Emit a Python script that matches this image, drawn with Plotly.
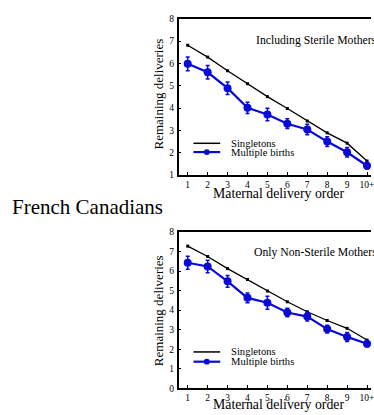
import plotly.graph_objects as go

order = [1, 2, 3, 4, 5, 6, 7, 8, 9, 10]
tick_labels = ["1", "2", "3", "4", "5", "6", "7", "8", "9", "10+"]

# Including sterile mothers
single_all = [6.81, 6.28, 5.67, 5.09, 4.51, 3.98, 3.42, 2.89, 2.43, 1.63]
multi_all = [5.98, 5.60, 4.89, 4.01, 3.71, 3.30, 3.04, 2.50, 2.02, 1.42]
multi_all_err = [0.31, 0.30, 0.28, 0.25, 0.28, 0.22, 0.23, 0.22, 0.21, 0.15]

# Only non-sterile mothers
single_ns = [7.28, 6.75, 6.13, 5.57, 4.98, 4.43, 3.92, 3.47, 3.07, 2.47]
multi_ns = [6.43, 6.24, 5.48, 4.63, 4.38, 3.88, 3.67, 3.03, 2.63, 2.28]
multi_ns_err = [0.33, 0.32, 0.30, 0.25, 0.33, 0.22, 0.22, 0.20, 0.23, 0.15]

W, H = 374, 415
BLUE = "#0a0ad8"
FONT = "Liberation Serif, Times New Roman, DejaVu Serif, serif"

fig = go.Figure()


def px_x(p):
    return p / W


def px_y(p):
    return 1 - p / H


panels = [
    dict(xa="x", ya="y", single=single_all, multi=multi_all, err=multi_all_err),
    dict(xa="x2", ya="y2", single=single_ns, multi=multi_ns, err=multi_ns_err),
]

for p in panels:
    fig.add_trace(go.Scatter(
        x=order, y=p["single"], xaxis=p["xa"], yaxis=p["ya"],
        mode="lines+markers", line=dict(color="black", width=1.3),
        marker=dict(symbol="square", size=3, color="black"),
        showlegend=False, cliponaxis=False))
    fig.add_trace(go.Scatter(
        x=order, y=p["multi"], xaxis=p["xa"], yaxis=p["ya"],
        mode="lines+markers", line=dict(color=BLUE, width=2.2),
        marker=dict(symbol="circle", size=8, color=BLUE),
        error_y=dict(type="data", array=p["err"], visible=True,
                     color=BLUE, thickness=1.5, width=2),
        showlegend=False, cliponaxis=False))

common_x = dict(
    range=[0.54, 10.2], tickmode="array", tickvals=order, ticktext=tick_labels,
    ticks="inside", ticklen=3, tickwidth=1, tickcolor="black",
    showline=True, linecolor="black", linewidth=1.5, mirror=True,
    showgrid=False, zeroline=False, ticklabeloverflow="allow",
    tickfont=dict(family=FONT, size=9.5, color="black"),
    domain=[px_x(180), 1.0],
)
common_y = dict(
    ticks="inside", ticklen=3, tickwidth=1, tickcolor="black", dtick=1,
    showline=True, linecolor="black", linewidth=1.5,
    showgrid=False, zeroline=False,
    tickfont=dict(family=FONT, size=9.5, color="black"),
    ticklabelstandoff=1,
)

fig.update_layout(
    width=W, height=H, margin=dict(l=0, r=0, t=0, b=0),
    paper_bgcolor="white", plot_bgcolor="white",
    font=dict(family=FONT, color="black"),
    xaxis=dict(**common_x, anchor="y"),
    yaxis=dict(**common_y, range=[1, 8], anchor="x",
               domain=[px_y(174.3), px_y(14)]),
    xaxis2=dict(**common_x, anchor="y2"),
    yaxis2=dict(**common_y, range=[0, 8], anchor="x2",
                domain=[px_y(392.7), px_y(232.7)]),
    showlegend=False,
)

ann = []
ann_font = dict(family=FONT, color="black")
# Axis titles
for yc in (91, 313):
    ann.append(dict(text="Remaining deliveries", xref="paper", yref="paper",
                    x=px_x(160), y=px_y(yc), xanchor="center", yanchor="middle",
                    textangle=-90, showarrow=False, font=dict(**ann_font, size=13)))
for yc in (193, 409):
    ann.append(dict(text="Maternal delivery order", xref="paper", yref="paper",
                    x=px_x(281), y=px_y(yc), xanchor="center", yanchor="middle",
                    showarrow=False, font=dict(**ann_font, size=13.8)))
# Panel labels
ann.append(dict(text="Including Sterile Mothers", xref="paper", yref="paper",
                x=px_x(256), y=px_y(36.7), xanchor="left", yanchor="middle",
                showarrow=False, font=dict(**ann_font, size=11.7)))
ann.append(dict(text="Only Non-Sterile Mothers", xref="paper", yref="paper",
                x=px_x(254), y=px_y(253.3), xanchor="left", yanchor="middle",
                showarrow=False, font=dict(**ann_font, size=11.7)))
# Group title
ann.append(dict(text="French Canadians", xref="paper", yref="paper",
                x=px_x(10), y=px_y(207), xanchor="left", yanchor="middle",
                showarrow=False, font=dict(**ann_font, size=21)))

# Manual legends
shapes = []
legend_rows = [(141.7, 150.7), (355.5, 365.5)]
for ys, ym in legend_rows:
    shapes.append(dict(type="line", xref="paper", yref="paper",
                       x0=px_x(195), x1=px_x(222), y0=px_y(ys), y1=px_y(ys),
                       line=dict(color="black", width=1.5)))
    shapes.append(dict(type="line", xref="paper", yref="paper",
                       x0=px_x(195), x1=px_x(222), y0=px_y(ym), y1=px_y(ym),
                       line=dict(color=BLUE, width=2.2)))
    shapes.append(dict(type="circle", xref="paper", yref="paper",
                       x0=px_x(205.5), x1=px_x(211.5), y0=px_y(ym + 3), y1=px_y(ym - 3),
                       fillcolor=BLUE, line=dict(color=BLUE, width=0)))
    ann.append(dict(text="Singletons", xref="paper", yref="paper",
                    x=px_x(231), y=px_y(ys), xanchor="left", yanchor="middle",
                    showarrow=False, font=dict(**ann_font, size=10.6)))
    ann.append(dict(text="Multiple births", xref="paper", yref="paper",
                    x=px_x(231), y=px_y(ym), xanchor="left", yanchor="middle",
                    showarrow=False, font=dict(**ann_font, size=10.6)))

fig.update_layout(annotations=ann, shapes=shapes)
fig.write_html("out.html")
